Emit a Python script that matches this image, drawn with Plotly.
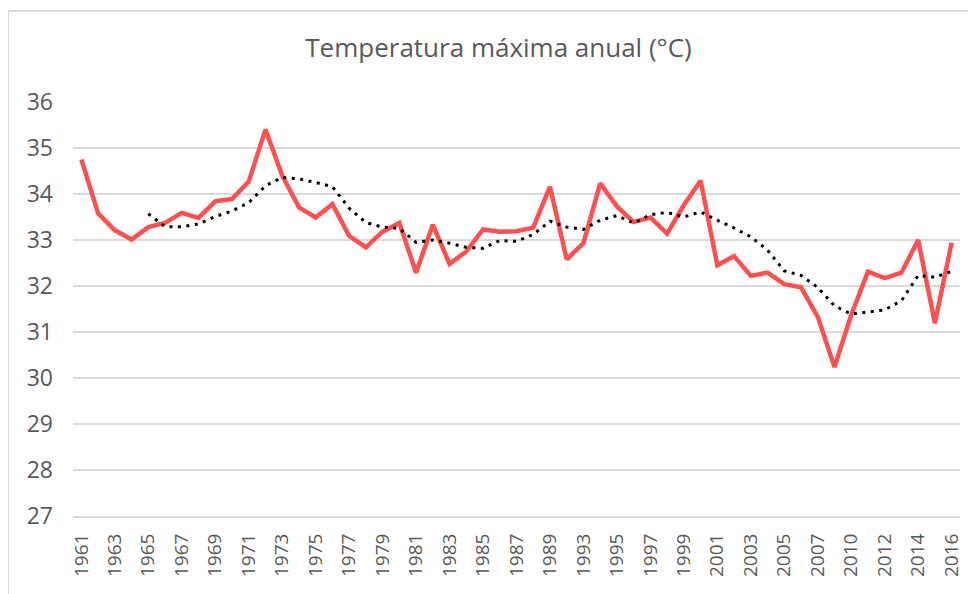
import plotly.graph_objects as go

years = ["1961","1962","1963","1964","1965","1966","1967","1968","1969","1970",
         "1971","1972","1973","1974","1975","1976","1977","1978","1979","1980",
         "1981","1982","1983","1984","1985","1986","1987","1988","1989","1991",
         "1993","1994","1995","1996","1997","1998","1999","2000","2001","2002",
         "2003","2004","2005","2006","2007","2009","2010","2011","2012","2013",
         "2014","2015","2016"]

tmax = [34.75, 33.58, 33.21, 33.01, 33.28, 33.37, 33.59, 33.48, 33.84, 33.89,
        34.27, 35.40, 34.40, 33.71, 33.49, 33.78, 33.09, 32.84, 33.18, 33.37,
        32.29, 33.33, 32.48, 32.75, 33.23, 33.18, 33.19, 33.27, 34.16, 32.58,
        32.93, 34.23, 33.73, 33.39, 33.49, 33.14, 33.76, 34.29, 32.45, 32.65,
        32.22, 32.29, 32.04, 31.97, 31.33, 30.24, 31.37, 32.31, 32.17, 32.29,
        33.00, 31.19, 32.94]

# dotted trend line (5-period moving average as drawn)
trend = [None, None, None, None, 33.57, 33.29, 33.29, 33.35, 33.51, 33.63,
         33.81, 34.18, 34.36, 34.33, 34.25, 34.16, 33.69, 33.38, 33.28, 33.25,
         32.95, 33.00, 32.93, 32.84, 32.82, 32.99, 32.97, 33.12, 33.41, 33.28,
         33.23, 33.43, 33.53, 33.37, 33.55, 33.60, 33.50, 33.61, 33.43, 33.26,
         33.07, 32.78, 32.33, 32.23, 31.97, 31.57, 31.39, 31.44, 31.48, 31.68,
         32.23, 32.19, 32.32]

tick_labels = years[::2]
y_ticks = [27, 28, 29, 30, 31, 32, 33, 34, 35, 36]

title_text = "Temperatura máxima anual (°C)"

fig = go.Figure()
fig.add_trace(go.Scatter(x=years, y=tmax, mode="lines",
                         line=dict(color="#FF5050", width=4.5),
                         showlegend=False, hoverinfo="x+y"))
fig.add_trace(go.Scatter(x=years, y=trend, mode="lines",
                         line=dict(color="#000000", width=3, dash="3px,5.5px"),
                         showlegend=False, connectgaps=False))

grid = "#D9D9D9"
font_col = "#595959"
fig.update_layout(
    width=976, height=594,
    margin=dict(l=65, r=24, t=94, b=86),
    paper_bgcolor="white", plot_bgcolor="white",
    font=dict(family="Open Sans, Segoe UI, sans-serif", color=font_col),
    title=dict(text=title_text, x=0.5026, xref="container", xanchor="center",
               y=1 - 40 / 594, yref="container", yanchor="middle",
               font=dict(size=26, color=font_col)),
    xaxis=dict(type="category", categoryorder="array", categoryarray=years,
               range=[-0.5, len(years) - 0.5],
               tickmode="array", tickvals=tick_labels, ticktext=tick_labels,
               tickangle=-90, tickfont=dict(size=19, color=font_col),
               showgrid=False, showline=True, linecolor=grid, linewidth=2,
               ticks="", ticklabelstandoff=8, zeroline=False),
    yaxis=dict(range=[27, 36], tickvals=y_ticks,
               tickfont=dict(size=23, color=font_col),
               showgrid=True, gridcolor=grid, gridwidth=2,
               showline=False, zeroline=False, ticks="",
               ticklabelstandoff=19),
    shapes=[dict(type="rect", xref="paper", yref="paper",
                 x0=-65 / 887, x1=1.05, y0=-0.3, y1=505 / 414,
                 line=dict(color=grid, width=2), fillcolor="rgba(0,0,0,0)",
                 layer="below")],
)

fig.write_html("out.html")
